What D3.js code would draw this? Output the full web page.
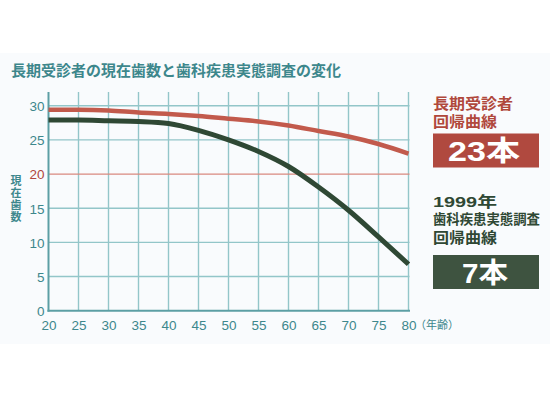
<!DOCTYPE html>
<html>
<head>
<meta charset="utf-8">
<script src="https://cdn.jsdelivr.net/npm/d3@7"></script>
<style>
  body { margin: 0; background: #fff; }
  svg { display: block; font-family: "Liberation Sans", "Noto Sans CJK JP", sans-serif; }
</style>
</head>
<body>
<div id="chart"></div>
<script>
// ages on the x axis
const ages = [20, 25, 30, 35, 40, 45, 50, 55, 60, 65, 70, 75, 80];
// regression curve of long-term patients (red)
const longTerm = [29.4, 29.4, 29.3, 29.0, 28.8, 28.5, 28.1, 27.7, 27.1, 26.3, 25.5, 24.4, 23.0];
// 1999 survey regression curve (green)
const survey1999 = [27.9, 27.9, 27.8, 27.7, 27.4, 26.4, 25.0, 23.3, 21.1, 18.1, 14.7, 10.8, 6.8];
const yTicks = [0, 5, 10, 15, 20, 25, 30];
const redLabel = ['長期受診者', '回帰曲線'];
const greenLabel = ['1999年', '歯科疾患実態調査', '回帰曲線'];

const width = 550, height = 399;
const teal = '#3d878c';
const jp = '"Noto Sans CJK JP", sans-serif';

const svg = d3.select('#chart').append('svg')
    .attr('width', width)
    .attr('height', height);

// faint panel behind the chart
svg.append('rect')
    .attr('x', 0).attr('y', 53)
    .attr('width', width).attr('height', 291)
    .attr('fill', '#f9fbfd');

const x = d3.scaleLinear().domain([20, 80]).range([48.5, 408.5]);
const y = d3.scaleLinear().domain([0, 30]).range([310.7, 105.7]);

// title
svg.append('text')
    .attr('x', 11).attr('y', 76)
    .attr('fill', teal)
    .attr('font-size', 15)
    .attr('font-weight', 'bold')
    .style('font-family', jp)
    .text('長期受診者の現在歯数と歯科疾患実態調査の変化');

// grid
const grid = svg.append('g');
grid.selectAll('line.v')
    .data(ages.slice(1))
    .join('line')
    .attr('x1', d => x(d)).attr('x2', d => x(d))
    .attr('y1', 92).attr('y2', y(0))
    .attr('stroke', '#93c6c9')
    .attr('stroke-width', 1.4);

grid.selectAll('line.h')
    .data(yTicks.filter(d => d > 0))
    .join('line')
    .attr('x1', x(20)).attr('x2', x(80) + 1)
    .attr('y1', d => y(d)).attr('y2', d => y(d))
    .attr('stroke', d => d === 20 ? '#d9897f' : '#93c6c9')
    .attr('stroke-width', d => d === 20 ? 1.2 : 1.4);

// axes
const yAxis = d3.axisLeft(y).tickValues(yTicks).tickSize(0).tickPadding(4);
const gy = svg.append('g')
    .attr('transform', `translate(${x(20)},0)`)
    .call(yAxis);
gy.select('.domain').remove();
gy.selectAll('text')
    .attr('font-size', 13.5)
    .attr('fill', d => d === 20 ? '#b0473d' : teal)
    .attr('dy', '0.36em');

const xAxis = d3.axisBottom(x).tickValues(ages).tickSize(0).tickPadding(10);
const gx = svg.append('g')
    .attr('transform', `translate(0,${y(0)})`)
    .call(xAxis);
gx.select('.domain').remove();
gx.selectAll('text')
    .attr('font-size', 13.5)
    .attr('fill', teal);

svg.append('line')
    .attr('x1', x(20)).attr('x2', x(20))
    .attr('y1', 92).attr('y2', y(0) + 1)
    .attr('stroke', '#5c9fa4').attr('stroke-width', 2);
svg.append('line')
    .attr('x1', x(20) - 1).attr('x2', x(80) + 1.5)
    .attr('y1', y(0)).attr('y2', y(0))
    .attr('stroke', '#5c9fa4').attr('stroke-width', 2);

// axis titles
svg.append('text')
    .attr('x', 415).attr('y', 329)
    .attr('font-size', 11)
    .attr('fill', teal)
    .style('font-family', jp)
    .text('（年齢）');

svg.append('text')
    .attr('x', 16).attr('y', 175)
    .style('writing-mode', 'vertical-rl')
    .attr('letter-spacing', 1)
    .attr('font-size', 11)
    .attr('font-weight', 'bold')
    .attr('fill', teal)
    .style('font-family', jp)
    .text('現在歯数');

// curves
const line = d3.line()
    .x((d, i) => x(ages[i]))
    .y(d => y(d))
    .curve(d3.curveMonotoneX);

svg.append('path')
    .datum(longTerm)
    .attr('d', line)
    .attr('fill', 'none')
    .attr('stroke', '#c25a4c')
    .attr('stroke-width', 4.5);

svg.append('path')
    .datum(survey1999)
    .attr('d', line)
    .attr('fill', 'none')
    .attr('stroke', '#2f4834')
    .attr('stroke-width', 5);

// legend
const legend = svg.append('g').attr('font-weight', 'bold');
const redWidths = [80, 64];
const greenWidths = [64, 107, 64];

legend.selectAll('text.red')
    .data(redLabel)
    .join('text')
    .attr('x', 433).attr('y', (d, i) => [108.8, 127.3][i])
    .attr('font-size', 15)
    .attr('textLength', (d, i) => redWidths[i])
    .attr('lengthAdjust', 'spacingAndGlyphs')
    .attr('fill', '#b0483c')
    .text(d => d);

legend.append('rect')
    .attr('x', 433).attr('y', 133.5)
    .attr('width', 106).attr('height', 34)
    .attr('fill', '#b0493f');
legend.append('text')
    .attr('x', 448).attr('y', 160.5)
    .attr('font-size', 28)
    .attr('textLength', 72)
    .attr('lengthAdjust', 'spacingAndGlyphs')
    .attr('fill', '#fff')
    .text('23本');

legend.selectAll('text.green')
    .data(greenLabel)
    .join('text')
    .attr('x', 433).attr('y', (d, i) => [206.5, 224.3, 243][i])
    .attr('font-size', (d, i) => i === 1 ? 13.5 : 15)
    .attr('textLength', (d, i) => greenWidths[i])
    .attr('lengthAdjust', 'spacingAndGlyphs')
    .attr('fill', '#2f4834')
    .text(d => d);

legend.append('rect')
    .attr('x', 433).attr('y', 255)
    .attr('width', 106).attr('height', 34)
    .attr('fill', '#3e5340');
legend.append('text')
    .attr('x', 462).attr('y', 282.5)
    .attr('font-size', 28)
    .attr('textLength', 46)
    .attr('lengthAdjust', 'spacingAndGlyphs')
    .attr('fill', '#fff')
    .text('7本');
</script>
</body>
</html>
